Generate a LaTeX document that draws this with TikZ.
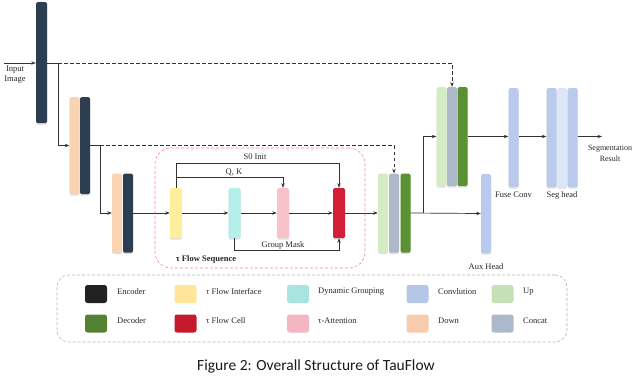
\documentclass[tikz,border=0pt]{standalone}
\usepackage{fontspec}
\setmainfont{Liberation Serif}
\newfontfamily\capfont{Carlito}
\usetikzlibrary{arrows.meta,shadows,calc}
\definecolor{encC}{HTML}{2D3E50}
\definecolor{downC}{HTML}{FAD3B2}
\definecolor{upC}{HTML}{D3ECC3}
\definecolor{catC}{HTML}{AEB9C8}
\definecolor{decC}{HTML}{5A9133}
\definecolor{yelC}{HTML}{FFEF9C}
\definecolor{cyC}{HTML}{B4F0EA}
\definecolor{pkC}{HTML}{F9C2CA}
\definecolor{redC}{HTML}{D21E36}
\definecolor{convC}{HTML}{B9CAEC}
\definecolor{convL}{HTML}{DDE6F7}
\definecolor{lgEnc}{HTML}{222222}
\definecolor{lgDec}{HTML}{548235}
\definecolor{lgYel}{HTML}{FFE699}
\definecolor{lgRed}{HTML}{C51A2E}
\definecolor{lgCy}{HTML}{A9E5E0}
\definecolor{lgPk}{HTML}{F4B6C2}
\definecolor{lgConv}{HTML}{B4C7E7}
\definecolor{lgDown}{HTML}{F8CBAD}
\definecolor{lgUp}{HTML}{C5E0B4}
\definecolor{lgCat}{HTML}{ADB9CA}
\definecolor{lineC}{HTML}{333333}
\begin{document}
\begin{tikzpicture}[x=1pt,y=-1pt,
  blk/.style={draw=none, rounded corners=1.5pt, inner sep=0pt, minimum width=10pt,
     drop shadow={shadow xshift=0pt, shadow yshift=-1.5pt, opacity=0.25}},
  arr/.style={draw=lineC, line width=0.7pt, -{Stealth[length=4.5pt,width=3.4pt]}},
  ln/.style={draw=lineC, line width=0.7pt},
  darr/.style={arr, dash pattern=on 3.5pt off 2.5pt},
  lbl/.style={font=\fontsize{8.5}{9.5}\selectfont, inner sep=0.5pt, text=black!85},
  sw/.style={draw=none, rounded corners=2.5pt, minimum width=22pt, minimum height=18pt, inner sep=0pt},
  lgl/.style={font=\fontsize{8.5}{9.5}\selectfont, anchor=west, inner sep=0pt, text=black!85}]
\useasboundingbox (0,0) rectangle (640,376);

% encoder / down bars
\node[blk, fill=encC, minimum height=121pt, minimum width=11pt] (e1) at (41.5,62.5) {};
\node[blk, fill=downC, minimum height=97pt] (d2) at (74.5,145.5) {};
\node[blk, fill=encC, minimum height=97pt] (e2) at (85,145.5) {};
\node[blk, fill=downC, minimum height=79pt] (d3) at (117,213) {};
\node[blk, fill=encC, minimum height=79pt] (e3) at (128,213) {};

% tau flow sequence
\node[draw=pkC!70!red, dash pattern=on 3pt off 2pt, line width=0.6pt, rounded corners=16pt,
      minimum width=210pt, minimum height=120pt, inner sep=0pt] (seq) at (260,208) {};
\node[blk, fill=yelC, minimum height=50pt, minimum width=12pt] (yel) at (176,213) {};
\node[blk, fill=cyC, minimum height=50pt, minimum width=12pt] (cy) at (234.5,213) {};
\node[blk, fill=pkC, minimum height=50pt, minimum width=12pt] (pk) at (283,213) {};
\node[blk, fill=redC, minimum height=50pt, minimum width=12pt] (rd) at (339,213) {};

% decoder stage 1
\node[blk, fill=upC, minimum height=79pt] (u4) at (383,213) {};
\node[blk, fill=catC, minimum height=79pt] (c4) at (394,213) {};
\node[blk, fill=decC, minimum height=79pt] (dc4) at (405.5,213) {};

% decoder stage 2
\node[blk, fill=upC, minimum height=99pt] (u5) at (441.5,136.5) {};
\node[blk, fill=catC, minimum height=99pt] (c5) at (452,136.5) {};
\node[blk, fill=decC, minimum height=99pt] (dc5) at (462.5,136.5) {};

% heads
\node[blk, fill=convC, minimum height=79pt] (aux) at (486,213.5) {};
\node[blk, fill=convC, minimum height=99pt] (fuse) at (513.5,137.5) {};
\node[blk, fill=convC, minimum height=99pt] (sh1) at (551.5,137.5) {};
\node[blk, fill=convL, minimum height=99pt] (sh2) at (562,137.5) {};
\node[blk, fill=convC, minimum height=99pt] (sh3) at (572.5,137.5) {};

% connectors
\coordinate (inp) at (4,63);
\coordinate (j1) at (58,63);
\coordinate (j2) at (100,145.5);
\coordinate (j3) at (423,213);
\coordinate (outp) at (602,136.5);
\draw[arr] (inp) -- (e1.west |- inp);
\draw[arr] (e1.east |- inp) -- (j1) |- (d2.west);
\draw[darr] (j1) -| (c5.north);
\draw[arr] (e2.east) -- (j2) |- (d3.west);
\draw[darr] (j2) -| (c4.north);
\draw[arr] (e3.east) -- (yel.west);
\draw[arr] (yel.east) -- (cy.west);
\draw[arr] (cy.east) -- (pk.west);
\draw[arr] (pk.east) -- (rd.west);
\draw[arr] (rd.east) -- (u4.west);
\draw[arr] (yel.north) -- ($(yel.north)+(0,-24)$) -| (rd.north);
\draw[arr] ($(yel.north)+(0,-10)$) -| (pk.north);
\draw[arr] (cy.south) -- ($(cy.south)+(0,12)$) -| (rd.south);
\draw[arr] (dc4.east) -- (aux.west);
\draw[arr] (j3) |- (u5.west);
\draw[arr] (dc5.east) -- (fuse.west |- dc5.east);
\draw[arr] (fuse.east |- dc5.east) -- (sh1.west |- dc5.east);
\draw[arr] (sh3.east |- dc5.east) -- (outp);

% labels
\node[lbl, align=center] (tin) at (15,74.5) {Input\\Image};
\node[lbl] (ts0) at (255,157) {S0 Init};
\node[lbl] (tqk) at (234,172.5) {Q, K};
\node[lbl] (tgm) at (283,245.5) {Group Mask};
\node[lbl, font=\fontsize{8.5}{9.5}\selectfont\bfseries] (tseq) at (206,259) {τ Flow Sequence};
\node[lbl] (tfuse) at (513.5,195) {Fuse Conv};
\node[lbl] (tseg) at (562,195) {Seg head};
\node[lbl] (taux) at (486,267) {Aux Head};
\node[lbl, align=center, font=\fontsize{8}{11}\selectfont] (tres) at (610,153.5) {Segmentation\\Result};

% legend
\node[draw=black!30, dash pattern=on 3pt off 2pt, line width=0.6pt, rounded corners=12pt,
      minimum width=510pt, minimum height=67pt, inner sep=0pt] (leg) at (312,308.5) {};
\node[sw, fill=lgEnc] (s1) at (96,294) {};
\node[lgl] (l1) at (117,292) {Encoder};
\node[sw, fill=lgYel] (s2) at (185.5,294) {};
\node[lgl] (l2) at (206,292) {τ Flow Interface};
\node[sw, fill=lgCy] (s3) at (298,294) {};
\node[lgl] (l3) at (318,292) {Dynamic Grouping};
\node[sw, fill=lgConv] (s4) at (417.5,294) {};
\node[lgl] (l4) at (438,292) {Convlution};
\node[sw, fill=lgUp] (s5) at (502.5,294) {};
\node[lgl] (l5) at (523,292) {Up};
\node[sw, fill=lgDec] (s6) at (96,323.5) {};
\node[lgl] (l6) at (117,321) {Decoder};
\node[sw, fill=lgRed] (s7) at (185.5,323.5) {};
\node[lgl] (l7) at (206,321) {τ Flow Cell};
\node[sw, fill=lgPk] (s8) at (298,323.5) {};
\node[lgl] (l8) at (318,321) {τ-Attention};
\node[sw, fill=lgDown] (s9) at (417.5,323.5) {};
\node[lgl] (l9) at (438,321) {Down};
\node[sw, fill=lgCat] (s10) at (502.5,323.5) {};
\node[lgl] (l10) at (523,321) {Concat};

% caption
\node[font=\capfont\fontsize{15.5}{18}\selectfont, inner sep=0pt, text=black!90] (cap) at (316,366) {Figure 2: Overall Structure of TauFlow};
\end{tikzpicture}
\end{document}
